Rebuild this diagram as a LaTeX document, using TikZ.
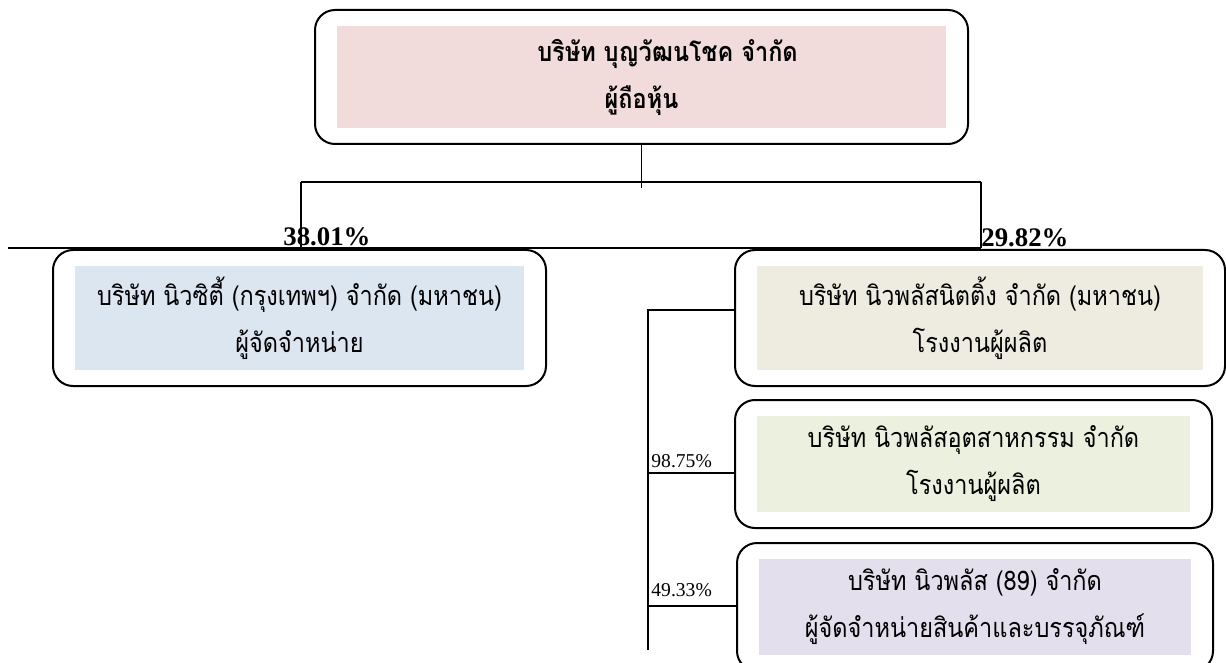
\documentclass[tikz,border=0pt]{standalone}
\usepackage{fontspec}
\setmainfont{Liberation Serif}
\newfontfamily\thaifont[Script=Thai, FakeStretch=0.87]{Loma}
\usetikzlibrary{positioning}
\definecolor{ownerpink}{HTML}{F2DCDB}
\definecolor{citybluefill}{HTML}{DCE6F1}
\definecolor{knitbeige}{HTML}{EEECE1}
\definecolor{indgreen}{HTML}{EBF1DE}
\definecolor{distlilac}{HTML}{E4DFEC}
\tikzset{
  firmbox/.style={draw, line width=1pt, rounded corners=10pt, inner sep=0pt},
  firmfill/.style={fill=#1, inner sep=0pt, align=center,
    font=\thaifont\fontsize{13.5}{23.5}\selectfont},
  share/.style={inner sep=0pt, anchor=base west, font=\fontsize{9.8}{12}\selectfont},
  bigshare/.style={share, font=\bfseries\fontsize{13.4}{16}\selectfont},
  link/.style={line width=0.8pt}
}
\begin{document}
\begin{tikzpicture}[x=0.5pt,y=-0.5pt]
  % name, centre x, centre y, width, height, fill, text
  \def\firm#1#2#3#4#5#6#7{
    \node[firmbox, minimum width=#4*0.5pt, minimum height=#5*0.5pt] (#1) at (#2,#3) {};
    \node[firmfill=#6, minimum width=(#4-44)*0.5pt, minimum height=(#5-32)*0.5pt]
      (#1 text) at (#2,#3) {#7};
  }
  \useasboundingbox (0,0) rectangle (1226,663);

  %%% holding company
  \firm{owner}{641.5}{77}{653}{134}{ownerpink}{\hspace*{26pt}\textbf{บริษัท บุญวัฒนโชค จำกัด}\\\textbf{ผู้ถือหุ้น}}

  %%% first level
  \firm{city}{299.5}{318}{493}{136}{citybluefill}{บริษัท นิวซิตี้ (กรุงเทพฯ) จำกัด (มหาชน)\\ผู้จัดจำหน่าย}
  \firm{knit}{980}{318}{490}{136}{knitbeige}{บริษัท นิวพลัสนิตติ้ง จำกัด (มหาชน)\\โรงงานผู้ผลิต}

  %%% second level
  \firm{ind}{973.5}{464}{477}{128}{indgreen}{บริษัท นิวพลัสอุตสาหกรรม จำกัด\\โรงงานผู้ผลิต}
  \firm{dist}{975}{607}{476}{128}{distlilac}{บริษัท นิวพลัส (89) จำกัด\\ผู้จัดจำหน่ายสินค้าและบรรจุภัณฑ์}

  %%% bus from the holding company
  \coordinate (stub) at (641.5,188);
  \coordinate (busL) at (301,182);
  \coordinate (busR) at (981,182);
  \coordinate (legL) at (301,248);
  \coordinate (legR) at (981,248);
  \coordinate (ruleL) at (8,248);
  \draw[link] (owner.south) -- (stub);
  \draw[link] (busL) -- (busR);
  \draw[link] (busL) -- (legL);
  \draw[link] (busR) -- (legR);
  \draw[link] (ruleL) -- (legR);
  \node[bigshare] (cityshare) at (283,246) {38.01\%};
  \node[bigshare] (knitshare) at (981,247) {29.82\%};

  %%% trunk under the knitting company
  \coordinate (trunkTop) at (648,310);
  \coordinate (tapInd) at (648,473);
  \coordinate (tapDist) at (648,606);
  \coordinate (trunkEnd) at (648,650);
  \draw[link] (trunkTop -| knit.west) -- (trunkTop) -- (trunkEnd);
  \draw[link] (tapInd) -- (tapInd -| ind.west);
  \draw[link] (tapDist) -- (tapDist -| dist.west);
  \node[share] (indshare) at (651,467) {98.75\%};
  \node[share] (distshare) at (651,596) {49.33\%};
\end{tikzpicture}
\end{document}
